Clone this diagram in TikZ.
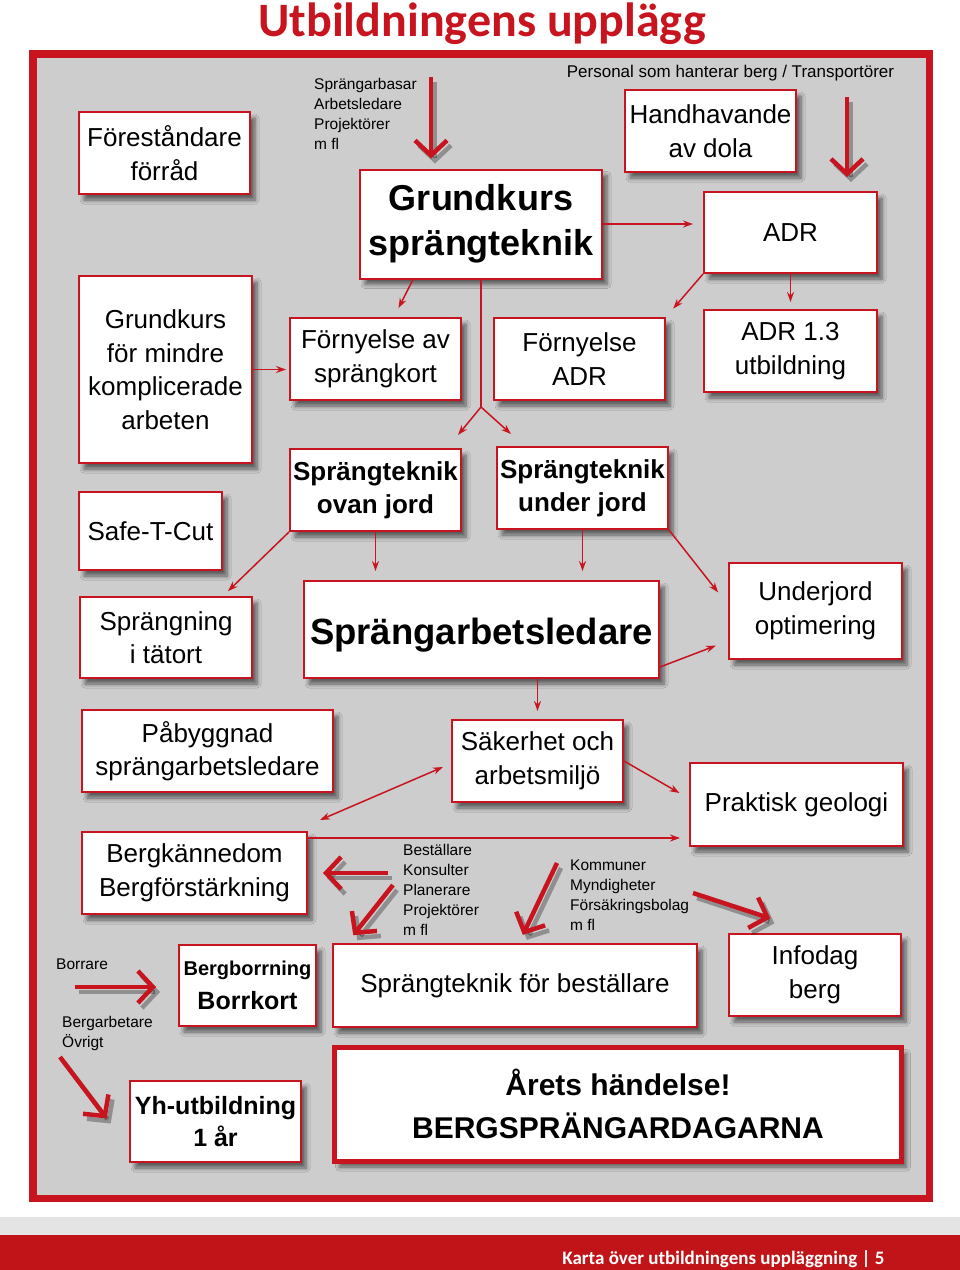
\documentclass[tikz,border=0pt]{standalone}
\usepackage{fontspec}
\setmainfont{Liberation Sans}
\newfontfamily\rubrikfont{Carlito}
\usetikzlibrary{arrows.meta,calc,shadows.blur}
\definecolor{kartred}{HTML}{C8141E}
\definecolor{kartgray}{HTML}{CDCDCD}
\definecolor{kartstrip}{HTML}{E4E4E4}
\definecolor{kartbar}{HTML}{C01419}

\tikzset{
  kurs/.style={draw=kartred, line width=2pt, fill=white, align=center, inner sep=0pt,
    blur shadow={shadow xshift=5pt, shadow yshift=-6pt, shadow blur steps=6,
                 shadow blur radius=4pt, shadow opacity=55},
    font=\fontsize{26}{33.5}\selectfont},
  tjock/.style={font=\bfseries\fontsize{26}{33}\selectfont},
  etikett/.style={align=left, inner sep=0pt, font=\fontsize{15.5}{20}\selectfont},
  pil/.style={kartred, line width=1.5pt, ->},
  fetpil/.style={kartred, line width=4.5pt, -{Straight Barb[length=15pt,width=32pt]}},
  fetskugga/.style={black, opacity=0.3, line width=4.5pt,
    -{Straight Barb[length=15pt,width=32pt]}, transform canvas={shift={(4pt,-5pt)}}},
}

\begin{document}
\begin{tikzpicture}[x=1pt, y=-1pt, >={Stealth[length=10pt,width=7pt]}]
  \useasboundingbox (0,0) rectangle (960,1270);

  %% rubrik
  \node[anchor=base, text=kartred, font=\rubrikfont\bfseries\fontsize{48}{52}\selectfont]
    (rubrik) at (482,36) {Utbildningens upplägg};

  %% ram
  \draw[kartred, line width=7.5pt, fill=kartgray] (32.75,53.75) rectangle (929.25,1198.25);

  %% sidfot
  \fill[kartstrip] (0,1217) rectangle (960,1235);
  \fill[kartbar] (0,1235) rectangle (960,1270);
  \node[anchor=base east, text=white, font=\rubrikfont\bfseries\fontsize{19}{22}\selectfont]
    (sidfot) at (888,1264) {Karta över utbildningens uppläggning | 5};

  %% kurser
  \node[kurs, minimum width=171pt, minimum height=82pt] (forrad) at (164.5,153) {Föreståndare\\förråd};
  \node[kurs, minimum width=173pt, minimum height=187pt] (gkmindre) at (165.5,369.5) {Grundkurs\\för mindre\\komplicerade\\arbeten};
  \node[kurs, minimum width=242pt, minimum height=109pt, font=\bfseries\fontsize{36}{45}\selectfont]
    (gks) at (481,224) {Grundkurs\\sprängteknik};
  \node[kurs, minimum width=171pt, minimum height=82pt] (dola) at (710.5,131) {Handhavande\\av dola};
  \node[kurs, minimum width=173pt, minimum height=81pt] (adr) at (790.5,232.5) {ADR};
  \node[kurs, minimum width=171pt, minimum height=82pt] (fkort) at (375.5,359) {Förnyelse av\\sprängkort};
  \node[kurs, minimum width=171pt, minimum height=82pt] (fadr) at (579.5,359) {Förnyelse\\ADR};
  \node[kurs, minimum width=173pt, minimum height=82pt] (adrtre) at (790.5,351) {ADR 1.3\\utbildning};
  \node[kurs, tjock, minimum width=171pt, minimum height=82pt] (ovan) at (375.5,490) {Sprängteknik\\ovan jord};
  \node[kurs, tjock, minimum width=171pt, minimum height=82pt] (under) at (582.5,488) {Sprängteknik\\under jord};
  \node[kurs, minimum width=143pt, minimum height=78pt] (safe) at (150.5,531) {Safe-T-Cut};
  \node[kurs, minimum width=172pt, minimum height=81pt] (tatort) at (166,637.5) {Sprängning\\i tätort};
  \node[kurs, minimum width=355pt, minimum height=97pt, font=\bfseries\fontsize{36.5}{45}\selectfont]
    (sal) at (481.5,629.5) {\rule{0pt}{37pt}Sprängarbetsledare};
  \node[kurs, minimum width=173pt, minimum height=96pt] (underopt) at (815.5,611) {Underjord\\optimering};
  \node[kurs, minimum width=251pt, minimum height=82pt] (pabygg) at (207.5,751) {Påbyggnad\\sprängarbetsledare};
  \node[kurs, minimum width=171pt, minimum height=82pt] (saker) at (537.5,761) {Säkerhet och\\arbetsmiljö};
  \node[kurs, minimum width=213pt, minimum height=83pt] (geologi) at (796.5,804.5) {Praktisk geologi};
  \node[kurs, minimum width=225pt, minimum height=82pt] (bergk) at (194.5,873) {Bergkännedom\\Bergförstärkning};
  \node[kurs, minimum width=137pt, minimum height=81pt] (borr) at (247.5,985.5)
    {{\bfseries\fontsize{20}{24}\selectfont Bergborrning}\\{\bfseries\fontsize{25}{33}\selectfont Borrkort}};
  \node[kurs, minimum width=364pt, minimum height=83pt] (bestallare) at (515,985.5) {Sprängteknik för beställare};
  \node[kurs, minimum width=172pt, minimum height=82pt] (infodag) at (815,975) {Infodag\\berg};
  \node[kurs, minimum width=171pt, minimum height=81pt, font=\bfseries\fontsize{25}{32}\selectfont]
    (yh) at (215.5,1121.5) {Yh-utbildning\\1 år};
  \node[kurs, line width=5pt, minimum width=567pt, minimum height=113.5pt,
        font=\bfseries\fontsize{30}{43}\selectfont]
    (arets) at (618,1104.25) {Årets händelse!\\BERGSPRÄNGARDAGARNA};

  %% målgrupper
  \node[etikett, anchor=north west] (lblBas) at (314,78) {Sprängarbasar\\Arbetsledare\\Projektörer\\m fl};
  \node[etikett, anchor=base, font=\fontsize{17}{20}\selectfont] (lblPersonal) at (730.5,77)
    {Personal som hanterar berg / Transportörer};
  \node[etikett, anchor=north west] (lblBest) at (403,844) {Beställare\\Konsulter\\Planerare\\Projektörer\\m fl};
  \node[etikett, anchor=north west] (lblKommun) at (570,860) {Kommuner\\Myndigheter\\Försäkringsbolag\\m fl};
  \node[etikett, anchor=base west] (lblBorrare) at (56,969) {Borrare};
  \node[etikett, anchor=north west] (lblArbetare) at (62,1016) {Bergarbetare\\Övrigt};

  %% tunna pilar
  \draw[pil, shorten >=10pt] ($(gks.south west)+(54,0)$) -- ($(fkort.north west)+(105,0)$);
  \draw[pil, shorten >=10pt] (gks.east) -- (gks.east -| adr.west);
  \coordinate (gren) at (481,407);
  \coordinate (grenV) at (458,435);
  \coordinate (grenH) at (511,434);
  \draw[kartred, line width=1.5pt] (gks.south) -- (gren);
  \draw[pil] (gren) -- (grenV);
  \draw[pil] (gren) -- (grenH);
  \draw[pil, shorten >=11pt] (adr.south west) -- (fadr.north east);
  \draw[pil, shorten >=7pt] (adr.south) -- (adr.south |- adrtre.north);
  \draw[pil, shorten >=3pt] (gkmindre.east) -- (gkmindre.east -| fkort.west);
  \draw[pil, shorten >=7pt] (ovan.south west) -- ($(tatort.north east)+(-30,0)$);
  \draw[pil, shorten >=9pt] (ovan.south) -- (ovan.south |- sal.north);
  \draw[pil, shorten >=9pt] (under.south) -- (under.south |- sal.north);
  \draw[pil, shorten >=16pt] (under.south east) -- ($(underopt.north west)+(0,43)$);
  \draw[pil, shorten >=13pt] ($(sal.south east)+(0,-12)$) -- ($(underopt.south west)+(0,-19)$);
  \draw[pil, shorten >=8pt] (saker.north |- sal.south) -- (saker.north);
  \draw[pil, <->] ($(saker.south west)+(-8,-36)$) -- ($(bergk.north east)+(12,-11)$);
  \draw[pil, shorten >=11pt] (saker.east) -- ($(geologi.west)+(0,-6)$);
  \coordinate (bk) at ($(bergk.north east)+(0,7)$);
  \draw[pil, shorten >=9pt] (bk) -- (bk -| geologi.west);

  %% feta pilar
  \coordinate (basstart) at (431,77);
  \coordinate (transstart) at (847,97);
  \coordinate (bestAstart) at (388,873);
  \coordinate (bestBstart) at (393,885);
  \coordinate (komAstart) at (557,863);
  \coordinate (komBstart) at (693,893);
  \coordinate (borrstart) at (75,987);
  \coordinate (arbstart) at (60,1057);
  \coordinate (gksin) at ($(gks.north west)+(72,0)$);
  \coordinate (adrin) at ($(adr.north west)+(144,0)$);
  \coordinate (bestBin) at ($(bestallare.north west)+(15,0)$);
  \coordinate (komAin) at ($(bestallare.north west)+(187,0)$);
  \coordinate (borrin) at (borrstart -| borr.west);
  \coordinate (yhin) at ($(yh.south west)+(0,-15)$);
  \foreach \fran/\till/\kort in {basstart/gksin/10, transstart/adrin/14, bestAstart/bergk.east/15,
      bestBstart/bestBin/10, komAstart/komAin/9, komBstart/infodag.north/47,
      borrstart/borrin/22, arbstart/yhin/37}
  {
    \draw[fetskugga, shorten >=\kort pt] (\fran) -- (\till);
    \draw[fetpil, shorten >=\kort pt] (\fran) -- (\till);
  }

\end{tikzpicture}
\end{document}
